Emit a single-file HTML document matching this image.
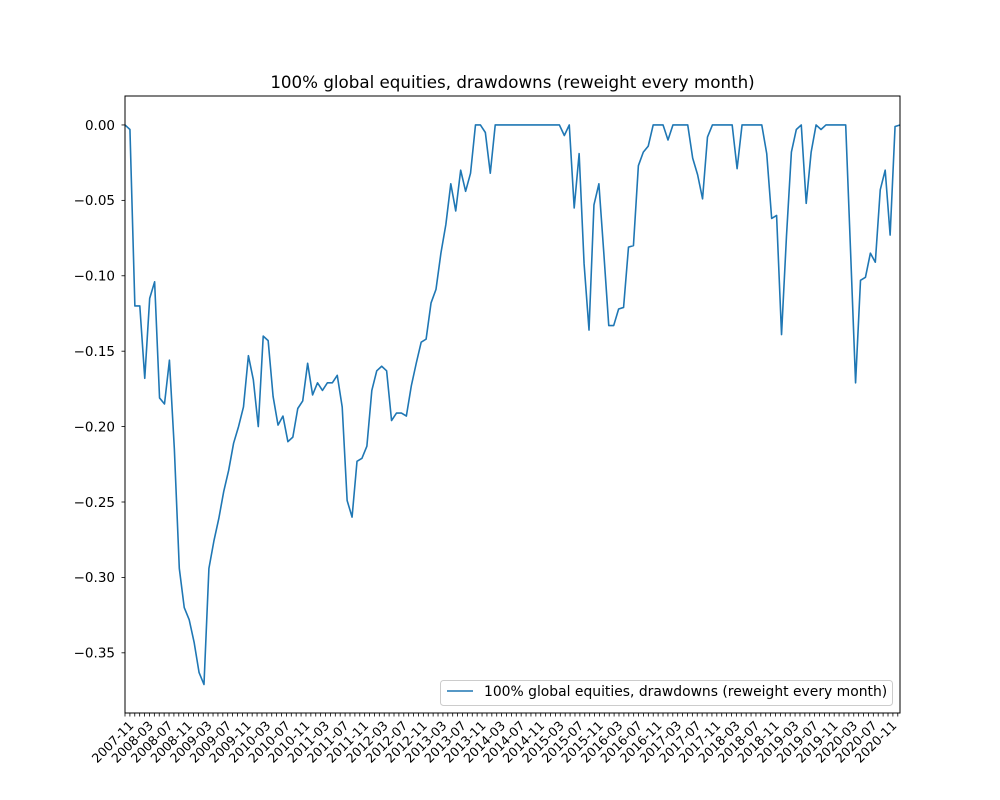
<!DOCTYPE html>
<html><head><meta charset="utf-8"><style>
html,body{margin:0;padding:0;background:#fff;}
svg{display:block;font-family:"DejaVu Sans","Liberation Sans",sans-serif;}
</style></head><body>
<svg id="chart" width="1000" height="800" viewBox="0 0 1000 800" xmlns="http://www.w3.org/2000/svg">
<rect x="0" y="0" width="1000" height="800" fill="#fff"/>
<text x="512.5" y="88" font-size="16.7" text-anchor="middle" fill="#000">100% global equities, drawdowns (reweight every month)</text>
<g id="yticks"></g>
<g id="xticks"></g>
<path id="series" fill="none" stroke="#1f77b4" stroke-width="1.6" stroke-linejoin="round"/>
<rect x="125" y="96" width="775" height="617" fill="none" stroke="#000" stroke-width="1"/>
<g>
<rect x="440.5" y="680.5" width="452" height="25" rx="3" fill="#fff" fill-opacity="0.8" stroke="#ccc"/>
<line x1="447" y1="691" x2="473" y2="691" stroke="#1f77b4" stroke-width="1.6"/>
<text x="484" y="696" font-size="13.9" fill="#000">100% global equities, drawdowns (reweight every month)</text>
</g>
</svg>
<script>
const startYear = 2007;
const startMonth = 11;
const drawdowns = [
0,-0.003,-0.120,-0.120,-0.168,-0.115,-0.104,-0.181,-0.185,-0.156,
-0.215,-0.294,-0.320,-0.328,-0.343,-0.363,-0.371,-0.294,-0.276,-0.261,
-0.243,-0.229,-0.211,-0.200,-0.187,-0.153,-0.169,-0.200,-0.140,-0.143,
-0.180,-0.199,-0.193,-0.210,-0.207,-0.188,-0.183,-0.158,-0.179,-0.171,
-0.176,-0.171,-0.171,-0.166,-0.187,-0.249,-0.260,-0.223,-0.221,-0.213,
-0.176,-0.163,-0.160,-0.163,-0.196,-0.191,-0.191,-0.193,-0.173,-0.158,
-0.144,-0.142,-0.118,-0.109,-0.085,-0.066,-0.039,-0.057,-0.030,-0.044,
-0.032,0,0,-0.005,-0.032,0,0,0,0,0,
0,0,0,0,0,0,0,0,0,-0.007,
0,-0.055,-0.019,-0.092,-0.136,-0.053,-0.039,-0.085,-0.133,-0.133,
-0.122,-0.121,-0.081,-0.080,-0.027,-0.018,-0.014,0,0,0,
-0.010,0,0,0,0,-0.022,-0.033,-0.049,-0.008,0,
0,0,0,0,-0.029,0,0,0,0,0,
-0.019,-0.062,-0.060,-0.139,-0.074,-0.018,-0.003,0,-0.052,-0.018,
0,-0.003,0,0,0,0,0,-0.085,-0.171,-0.103,
-0.101,-0.085,-0.091,-0.043,-0.030,-0.073,-0.001,0
];
const yTickValues = [0,-0.05,-0.10,-0.15,-0.20,-0.25,-0.30,-0.35];
const yTickLabels = ["0.00","−0.05","−0.10","−0.15","−0.20","−0.25","−0.30","−0.35"];
const monthTickCount = 159;
const labelEvery = 4;

const NS = "http://www.w3.org/2000/svg";
const L = 125, R = 900, T = 96, B = 713;
const yMax = 0.0192, yMin = -0.3899;
const monthPx = 763 / 156;
function xScale(i){ return L + i * (R - L) / (drawdowns.length - 1); }
function xTickScale(k){ return L + k * monthPx; }
function yScale(v){ return T + (yMax - v) / (yMax - yMin) * (B - T); }

const yg = document.getElementById('yticks');
yTickValues.forEach((v, k) => {
  const y = yScale(v);
  const t = document.createElementNS(NS, 'line');
  
  
  t.setAttribute('x1', L - 3.5); t.setAttribute('x2', L);
  t.setAttribute('y1', y); t.setAttribute('y2', y);
  t.setAttribute('stroke', '#000'); t.setAttribute('stroke-width', '0.8');
  yg.appendChild(t);
  const tx = document.createElementNS(NS, 'text');
  
  
  tx.setAttribute('x', L - 10); tx.setAttribute('y', y + 4.8);
  tx.setAttribute('font-size', '13.5'); tx.setAttribute('text-anchor', 'end');
  tx.textContent = yTickLabels[k];
  yg.appendChild(tx);
});

const xg = document.getElementById('xticks');
for (let k = 0; k < monthTickCount; k++) {
  const x = xTickScale(k);
  if (x > R + 0.5) break;
  const t = document.createElementNS(NS, 'line');
  
  
  t.setAttribute('x1', x); t.setAttribute('x2', x);
  t.setAttribute('y1', B); t.setAttribute('y2', B + 3.5);
  t.setAttribute('stroke', '#000'); t.setAttribute('stroke-width', '0.8');
  xg.appendChild(t);
  if (k % labelEvery === 0) {
    const m0 = startMonth - 1 + k;
    const yr = startYear + Math.floor(m0 / 12);
    const mo = (m0 % 12) + 1;
    const tx = document.createElementNS(NS, 'text');
    
    
    const ax = x + 3, ay = B + 7;
    tx.setAttribute('x', ax); tx.setAttribute('y', ay + 9);
    tx.setAttribute('font-size', '12.6'); tx.setAttribute('text-anchor', 'end');
    tx.setAttribute('transform', 'rotate(-45 ' + ax + ' ' + ay + ')');
    tx.textContent = yr + '-' + (mo < 10 ? '0' + mo : mo);
    xg.appendChild(tx);
  }
}

let d = '';
drawdowns.forEach((v, i) => { d += (i ? 'L' : 'M') + xScale(i).toFixed(2) + ',' + yScale(v).toFixed(2); });
document.getElementById('series').setAttribute('d', d);
</script>
</body></html>
